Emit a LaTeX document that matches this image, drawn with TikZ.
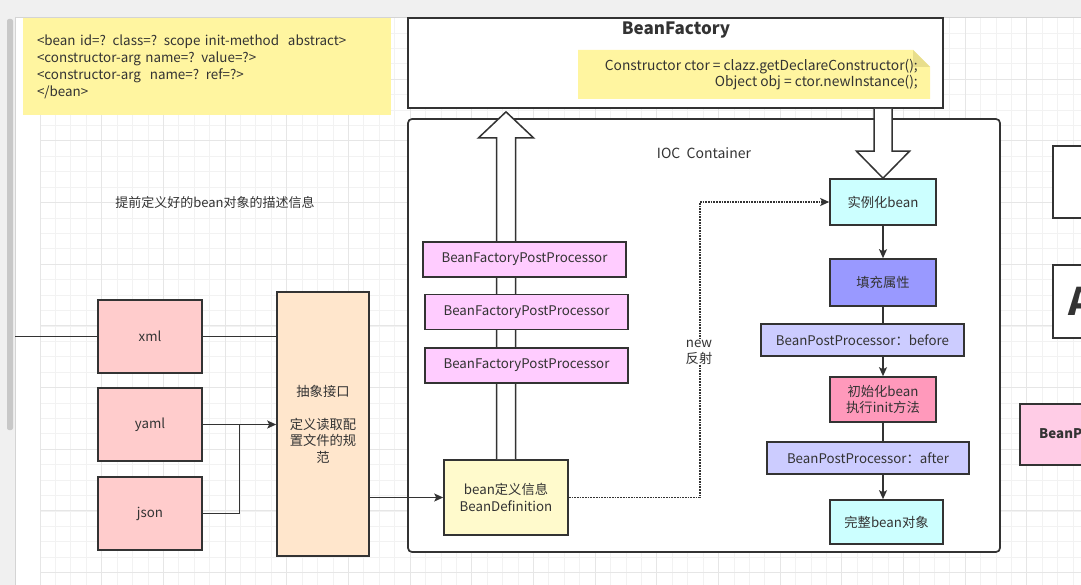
\documentclass[tikz,border=0pt]{standalone}
\usepackage{fontspec}
\setmainfont{Noto Sans CJK SC}
\usepackage{tikz}
\usetikzlibrary{arrows.meta}
\usetikzlibrary{calc}
\definecolor{linegray}{HTML}{333333}
\definecolor{textgray}{HTML}{333333}
\definecolor{notey}{HTML}{FFF5A0}
\definecolor{foldy}{HTML}{E8DE8C}
\definecolor{srcred}{HTML}{FFCCCC}
\definecolor{specpeach}{HTML}{FFE6CC}
\definecolor{defyellow}{HTML}{FFFACC}
\definecolor{bfppfill}{HTML}{FFCCFF}
\definecolor{cyanbox}{HTML}{CCFFFF}
\definecolor{bluebox}{HTML}{9999FF}
\definecolor{hookfill}{HTML}{CCCCFF}
\definecolor{pinkbox}{HTML}{FF99BB}
\definecolor{sidepink}{HTML}{FFCCE6}
\definecolor{toolgray}{HTML}{F0F0F0}
\definecolor{framegray}{HTML}{D4D4D4}
\definecolor{scrollgray}{HTML}{C8C8C8}
\definecolor{gridminorc}{HTML}{F2F2F2}
\definecolor{gridmajorc}{HTML}{E6E6E6}
\tikzset{
	box/.style={rectangle,draw=linegray,line width=1.6pt,inner sep=2pt,align=center,text=textgray,font=\fontsize{13.3}{16.5}\selectfont},
	src/.style={box,fill=srcred,minimum width=104pt,minimum height=73pt},
	specbox/.style={box,fill=specpeach,minimum width=92pt,minimum height=264pt,text width=72pt},
	defbox/.style={box,fill=defyellow,minimum width=124pt,minimum height=75pt},
	bfpp/.style={box,fill=bfppfill,minimum width=203pt,minimum height=35pt},
	stage/.style={box,minimum width=106pt,minimum height=46pt},
	hook/.style={box,fill=hookfill,minimum height=32pt},
	frame/.style={rectangle,draw=linegray,line width=1.7pt,fill=white,inner sep=0pt},
	note/.style={rectangle,fill=notey,inner sep=0pt,align=left,text=textgray,font=\fontsize{13.4}{17}\selectfont},
	plain/.style={text=textgray,inner sep=1pt,font=\fontsize{13}{16}\selectfont},
	lbl/.style={plain,fill=white,align=center,font=\fontsize{13.3}{16}\selectfont},
	link/.style={line width=1.5pt,draw=linegray},
	flow/.style={link,->},
	reflect/.style={line width=1.7pt,draw=linegray,densely dotted,->},
	hollow/.style={line width=1.5pt,draw=linegray,fill=white,line join=miter},
	gridminor/.style={gridminorc,line width=0.8pt},
	gridmajor/.style={gridmajorc,line width=0.9pt},
	>={Stealth[length=9pt,width=8pt,inset=2pt]},
	}

\begin{document}
\begin{tikzpicture}[x=1pt,y=-1pt]
 \useasboundingbox (0,0) rectangle (1081,585);
 \clip (0,0) rectangle (1081,585);
 \fill[white] (0,0) rectangle (1081,585);
 % canvas grid
 \foreach \i in {0,...,67}
  \draw[gridminor] ({40+15.42*\i},17.5) -- ({40+15.42*\i},585);
 \foreach \i in {0,...,37}
  \draw[gridminor] (40,{17.5+15.42*\i}) -- (1081,{17.5+15.42*\i});
 \foreach \i in {0,...,16}
  \draw[gridmajor] ({40+61.68*\i},17.5) -- ({40+61.68*\i},585);
 \foreach \i in {0,...,9}
  \draw[gridmajor] (40,{17.5+61.68*\i}) -- (1081,{17.5+61.68*\i});
 % editor frame
 \fill[toolgray] (0,0) rectangle (1081,17);
 \draw[framegray] (0,17) -- (1081,17);
 \fill[toolgray] (0,17) rectangle (15,585);
 \draw[framegray] (15,17) -- (15,585);
 \fill[scrollgray,rounded corners=2pt] (7,19) rectangle (13,430);

 \node (xmlnote) at (207,66.5) [note,minimum width=368pt,minimum height=97pt,text width=340pt]
  {<bean id=? class=? scope init-method\ \ abstract>\\<constructor-arg name=? value=?>\\<constructor-arg\ \ name=? ref=?>\\</bean>};
 \node (caption) at (215,203) [plain] {提前定义好的bean对象的描述信息};

 % BeanFactory
 \node (bf) at (675.5,63) [frame,minimum width=535pt,minimum height=90pt] {};
 \node (bftitle) at (676,30) [plain,font=\bfseries\fontsize{17}{20}\selectfont] {BeanFactory};
 \fill[notey] (578,50) -- (913,50) -- (930,67) -- (930,99) -- (578,99) -- cycle;
 \fill[foldy] (913,50) -- (930,67) -- (913,67) -- cycle;
 \node (ctor) at (919,75) [plain,anchor=east,align=right,font=\fontsize{13.8}{16}\selectfont]
  {Constructor ctor = clazz.getDeclareConstructor();\\Object obj = ctor.newInstance();};

 % IOC container
 \node (ioc) at (704,335.5) [frame,rounded corners=4pt,minimum width=592pt,minimum height=433pt] {};
 \node (ioctitle) at (704,153) [plain,font=\fontsize{14}{16}\selectfont] {IOC\ \ Container};

 % sources
 \node (xml) at (150,336.5) [src] {xml};
 \node (yaml) at (150,424.5) [src] {yaml};
 \node (json) at (150,513.5) [src] {json};
 \node (spec) at (323,424) [specbox] {抽象接口\\[16.5pt]定义读取配\\置文件的规\\范};
 \coordinate (edge) at (15,336.5);
 \coordinate (merge) at ($(yaml.east)!0.5!(yaml -| spec.west)$);
 \draw[link] (edge) -- (xml);
 \draw[link] (xml) -- (xml -| spec.west);
 \draw[flow] (yaml) -- (yaml -| spec.west);
 \draw[link] (json) -| (merge);

 \node (bdef) at (506,497.5) [defbox] {bean定义信息\\BeanDefinition};
 \draw[flow] (spec.east |- bdef) -- (bdef);

 % hollow arrows
 \draw[hollow] let \p1=(bdef.north), \p2=(bf.south) in
  (\x1-9.5pt,\y1) -- (\x1-9.5pt,\y2-29pt) -- (\x1-27.5pt,\y2-29pt) -- (\x1,\y2-3pt)
  -- (\x1+27.5pt,\y2-29pt) -- (\x1+9.5pt,\y2-29pt) -- (\x1+9.5pt,\y1);
 \foreach \y/\x [count=\i] in {259.5/524.5,312/526.5,365.5/526.5}
  \node (bfpp\i) at (\x,\y) [bfpp] {BeanFactoryPostProcessor};

 % bean life cycle
 \node (inst) at (883,202) [stage,fill=cyanbox] {实例化bean};
 \node (fillp) at (883,282.5) [stage,fill=bluebox,minimum height=47pt] {填充属性};
 \node (before) at (862.5,340) [hook,minimum width=203pt] {BeanPostProcessor：before};
 \node (init) at (883,399.5) [stage,fill=pinkbox,minimum height=45pt] {初始化bean\\执行init方法};
 \node (after) at (868,458) [hook,minimum width=202pt] {BeanPostProcessor：after};
 \node (done) at (886.5,522) [stage,fill=cyanbox,minimum width=113pt,minimum height=44pt] {完整bean对象};
 \draw[hollow] let \p1=(bf.south), \p2=(inst.north) in
  (\x2-9pt,\y1) -- (\x2-9pt,\y2+27pt) -- (\x2-26.5pt,\y2+27pt) -- (\x2,\y2)
  -- (\x2+26.5pt,\y2+27pt) -- (\x2+9pt,\y2+27pt) -- (\x2+9pt,\y1);
 \draw[flow] (inst) -- (fillp);
 \draw[link] (fillp) -- (fillp.south |- before.north);
 \draw[flow] (before.south -| init) -- (init);
 \draw[link] (init) -- (init.south |- after.north);
 \draw[flow] (after.south -| init) -- (init.south |- done.north);

 \draw[reflect] (bdef.east) -- ++(131,0) |- (inst);
 \node (newlbl) at (699,352) [lbl] {new\\反射};

 % cut off at the right edge
 \node (sidea) at (1052,145) [frame,anchor=north west,minimum width=80pt,minimum height=72pt] {};
 \node (sideb) at (1052,264) [frame,anchor=north west,minimum width=80pt,minimum height=73pt] {};
 \node (bigA) at (1068,301) [anchor=west,inner sep=0pt,text=textgray,font=\bfseries\fontsize{38}{40}\selectfont] {A};
 \node (sidec) at (1019,403) [box,fill=sidepink,anchor=north west,minimum width=100pt,minimum height=61pt] {};
 \node (sidectext) at (1039,434) [anchor=west,inner sep=0pt,text=textgray,font=\bfseries\fontsize{13.3}{16}\selectfont] {BeanPostProcessor};
\end{tikzpicture}
\end{document}
